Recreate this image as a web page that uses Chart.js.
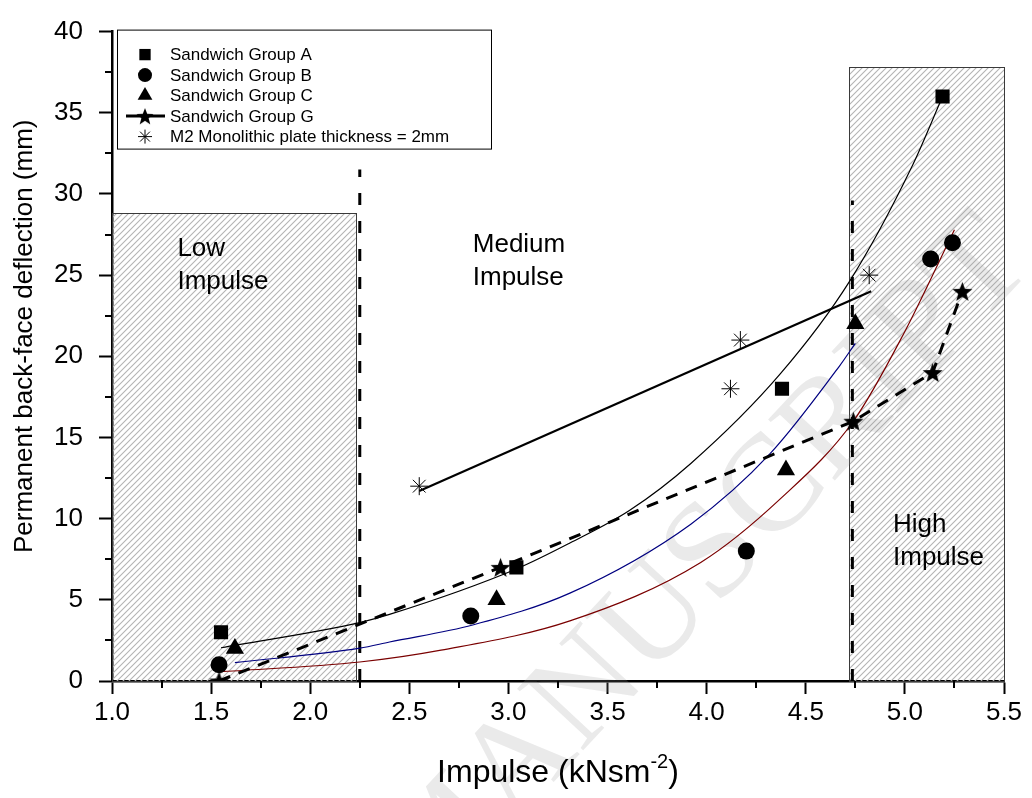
<!DOCTYPE html>
<html>
<head>
<meta charset="utf-8">
<script src="https://cdn.jsdelivr.net/npm/chart.js@4.4.1/dist/chart.umd.min.js"></script>
<style>
  html, body { margin: 0; padding: 0; background: #fff; }
</style>
</head>
<body>
<canvas id="myChart" width="1032" height="798"></canvas>
<script>
const impulseA = [1.55, 3.04, 4.38, 5.19];
const deflA = [3, 7, 18, 36];
const impulseB = [1.54, 2.81, 4.20, 5.13, 5.24];
const deflB = [1, 4, 8, 26, 27];
const impulseC = [1.62, 2.94, 4.40, 4.75];
const deflC = [2, 5, 13, 22];
const impulseG = [1.54, 2.96, 4.74, 5.14, 5.29];
const deflG = [0, 7, 16, 19, 24];
const impulseM2 = [2.55, 4.12, 4.17, 4.82];
const deflM2 = [12, 18, 21, 25];

// Fit curves, sampled by eye along each line
const fitAx = [1.55, 2.25, 2.40, 3.04, 3.31, 3.61, 3.92, 4.37, 4.72, 5.04, 5.19];
const fitAy = [2.05, 3.6, 4.1, 6.9, 8.5, 10.5, 13.4, 18.9, 24.6, 31.8, 36.0];
const fitBx = [1.54, 2.25, 2.66, 3.31, 3.97, 4.37, 4.74, 4.99, 5.25];
const fitBy = [0.56, 1.17, 1.9, 3.7, 7.3, 11.2, 16.0, 21.3, 27.8];
const fitCx = [1.62, 2.25, 2.40, 2.82, 3.31, 3.92, 4.32, 4.67, 4.75];
const fitCy = [1.13, 2.02, 2.4, 3.45, 5.41, 9.66, 14.0, 19.4, 20.8];
const fitM2x = [2.55, 4.83];
const fitM2y = [11.7, 24.0];

// Impulse zones
const zoneFrom = [1.0, 4.72];
const zoneTo = [2.23, 5.5];
const zoneTop = [28.8, 37.8];
const boundaryX = [2.25, 4.735];
const boundaryTop = [31.5, 29.6];
const zoneText = [["Low", "Impulse"], ["Medium", "Impulse"], ["High", "Impulse"]];
const zoneTextX = [1.33, 2.82, 4.94];
const zoneTextY = [26.2, 26.4, 9.2];

const xTicks = [1.0, 1.5, 2.0, 2.5, 3.0, 3.5, 4.0, 4.5, 5.0, 5.5];
const yTicks = [0, 5, 10, 15, 20, 25, 30, 35, 40];

const FONT = "Arial, 'Liberation Sans', sans-serif";
const pts = (xs, ys) => xs.map((v, i) => ({ x: v, y: ys[i] }));

// filled five point star used for group G
function makeStar(r) {
    const s = Math.ceil(r * 2 + 2);
    const c = document.createElement('canvas');
    c.width = s; c.height = s;
    const g = c.getContext('2d');
    g.fillStyle = '#000';
    g.beginPath();
    for (let i = 0; i < 10; i++) {
        const a = -Math.PI / 2 + i * Math.PI / 5;
        const rr = i % 2 ? r * 0.42 : r;
        const px = s / 2 + rr * Math.cos(a), py = s / 2 + rr * Math.sin(a) + r * 0.1;
        i ? g.lineTo(px, py) : g.moveTo(px, py);
    }
    g.closePath();
    g.fill();
    return c;
}
const bigStar = makeStar(10.5);
const smallStar = makeStar(9);

// hatch tile
const hatchTile = (() => {
    const c = document.createElement('canvas');
    c.width = 6; c.height = 6;
    const g = c.getContext('2d');
    g.strokeStyle = '#b4b4b4';
    g.lineWidth = 1.1;
    g.beginPath();
    g.moveTo(-1, 7); g.lineTo(7, -1);
    g.moveTo(-1, 1); g.lineTo(1, -1);
    g.moveTo(5, 7); g.lineTo(7, 5);
    g.stroke();
    return c;
})();

const boundaryData = boundaryX.map((bx, i) => ({
    label: '', data: [{ x: bx, y: 0 }, { x: bx, y: boundaryTop[i] }],
    showLine: true, borderColor: '#000', borderWidth: 3, borderDash: [12, 16],
    pointRadius: 0
}));

const legendSpec = [
    { style: 'rect', radius: 8, fill: true },
    { style: 'circle', radius: 7, fill: true },
    { style: 'triangle', radius: 8.5, fill: true },
    { style: smallStar, line: true },
    { style: 'star', radius: 7, fill: false }
];
const legendLabels = ['Sandwich Group A', 'Sandwich Group B', 'Sandwich Group C',
    'Sandwich Group G', 'M2 Monolithic plate thickness = 2mm'];

const decor = {
    id: 'decor',
    beforeDatasetsDraw(chart) {
        const { ctx, scales: { x, y } } = chart;
        ctx.save();
        // hatched zones
        const pat = ctx.createPattern(hatchTile, 'repeat');
        zoneFrom.forEach((from, i) => {
            const l = x.getPixelForValue(from), r = x.getPixelForValue(zoneTo[i]);
            const t = y.getPixelForValue(zoneTop[i]), b = y.getPixelForValue(0);
            ctx.fillStyle = pat;
            ctx.fillRect(l, t, r - l, b - t);
            ctx.strokeStyle = '#3a3a3a';
            ctx.lineWidth = 1;
            ctx.strokeRect(Math.round(l) + 0.5, Math.round(t) + 0.5, Math.round(r - l), Math.round(b - t));
        });
        // watermark
        ctx.save();
        ctx.translate(520, 765);
        ctx.rotate(-47 * Math.PI / 180);
        ctx.font = "138px 'Liberation Serif', 'DejaVu Serif', serif";
        ctx.fillStyle = 'rgba(150,150,150,0.2)';
        ctx.textBaseline = 'middle';
        const pre = ctx.measureText('ACCEPTED M').width + ctx.measureText('A').width / 2;
        ctx.fillText('ACCEPTED MANUSCRIPT', -pre, 0);
        ctx.restore();
        // zone captions
        ctx.fillStyle = '#000';
        ctx.font = '26px ' + FONT;
        ctx.textBaseline = 'alphabetic';
        ctx.textAlign = 'left';
        zoneText.forEach((lines, i) => {
            const px = x.getPixelForValue(zoneTextX[i]);
            const py = y.getPixelForValue(zoneTextY[i]);
            lines.forEach((s, k) => ctx.fillText(s, px, py + k * 33));
        });
        ctx.restore();
    },
    afterDraw(chart) {
        const { ctx, chartArea: a, scales: { x, y } } = chart;
        ctx.save();
        // minor ticks
        ctx.strokeStyle = '#000';
        ctx.lineWidth = 2;
        ctx.beginPath();
        for (let i = 0; i < xTicks.length - 1; i++) {
            const px = Math.round(x.getPixelForValue((xTicks[i] + xTicks[i + 1]) / 2));
            ctx.moveTo(px, a.bottom); ctx.lineTo(px, a.bottom + 7);
        }
        for (let i = 0; i < yTicks.length - 1; i++) {
            const py = Math.round(y.getPixelForValue((yTicks[i] + yTicks[i + 1]) / 2));
            ctx.moveTo(a.left, py); ctx.lineTo(a.left - 7, py);
        }
        ctx.stroke();

        // axis titles
        ctx.fillStyle = '#000';
        ctx.textBaseline = 'alphabetic';
        ctx.textAlign = 'left';
        const big = '32px ' + FONT, sup = '20px ' + FONT;
        ctx.font = big;
        const w1 = ctx.measureText('Impulse (kNsm').width, w3 = ctx.measureText(')').width;
        ctx.font = sup;
        const w2 = ctx.measureText('-2').width;
        let tx = (a.left + a.right) / 2 - (w1 + w2 + w3) / 2;
        const ty = 782;
        ctx.font = big; ctx.fillText('Impulse (kNsm', tx, ty);
        ctx.font = sup; ctx.fillText('-2', tx + w1, ty - 14);
        ctx.font = big; ctx.fillText(')', tx + w1 + w2, ty);

        ctx.save();
        ctx.translate(32, (a.top + a.bottom) / 2 - 20);
        ctx.rotate(-Math.PI / 2);
        ctx.textAlign = 'center';
        ctx.font = '26px ' + FONT;
        ctx.fillText('Permanent back-face deflection (mm)', 0, 0);
        ctx.restore();

        // legend box
        const lx = a.left + 5, ly = a.top - 2, lw = 374, lh = 119;
        ctx.fillStyle = '#fff';
        ctx.fillRect(lx, ly, lw, lh);
        ctx.strokeStyle = '#000';
        ctx.lineWidth = 1;
        ctx.strokeRect(lx + 0.5, ly + 0.5, lw, lh);
        ctx.font = '17px ' + FONT;
        ctx.textBaseline = 'middle';
        legendLabels.forEach((label, i) => {
            const cy = ly + 25 + i * 20.5, cx = lx + 28;
            const spec = legendSpec[i];
            ctx.fillStyle = '#000';
            ctx.strokeStyle = '#000';
            if (spec.line) {
                ctx.lineWidth = 3;
                ctx.beginPath();
                ctx.moveTo(lx + 9, cy); ctx.lineTo(lx + 48, cy);
                ctx.stroke();
            }
            ctx.lineWidth = 1;
            Chart.helpers.drawPoint(ctx, {
                pointStyle: spec.style, radius: spec.radius || 8, rotation: 0,
                borderWidth: spec.fill ? 0 : 1
            }, cx, cy);
            ctx.fillStyle = '#000';
            ctx.fillText(label, lx + 53, cy + 1);
        });
        ctx.restore();
    }
};

new Chart(document.getElementById('myChart'), {
    type: 'scatter',
    data: {
        datasets: [
            { label: legendLabels[0], data: pts(impulseA, deflA), pointStyle: 'rect', pointRadius: 10,
              backgroundColor: '#000', borderColor: '#000', borderWidth: 0 },
            { label: legendLabels[1], data: pts(impulseB, deflB), pointStyle: 'circle', pointRadius: 8.5,
              backgroundColor: '#000', borderColor: '#000', borderWidth: 0 },
            { label: legendLabels[2], data: pts(impulseC, deflC), pointStyle: 'triangle', pointRadius: 10.5,
              backgroundColor: '#000', borderColor: '#000', borderWidth: 0 },
            { label: legendLabels[3], data: pts(impulseG, deflG), pointStyle: bigStar, showLine: true,
              borderColor: '#000', borderWidth: 3, borderDash: [12, 9], backgroundColor: '#000' },
            { label: legendLabels[4], data: pts(impulseM2, deflM2), pointStyle: 'star', pointRadius: 9,
              borderColor: '#000', borderWidth: 1, backgroundColor: '#000' },
            { label: 'fit A', data: pts(fitAx, fitAy), showLine: true, pointRadius: 0,
              borderColor: '#000', borderWidth: 1.2, cubicInterpolationMode: 'monotone' },
            { label: 'fit B', data: pts(fitBx, fitBy), showLine: true, pointRadius: 0,
              borderColor: '#7a0000', borderWidth: 1.2, cubicInterpolationMode: 'monotone' },
            { label: 'fit C', data: pts(fitCx, fitCy), showLine: true, pointRadius: 0,
              borderColor: '#000080', borderWidth: 1.2, cubicInterpolationMode: 'monotone' },
            { label: 'fit M2', data: pts(fitM2x, fitM2y), showLine: true, pointRadius: 0,
              borderColor: '#000', borderWidth: 2.2 },
            ...boundaryData
        ]
    },
    options: {
        responsive: false,
        animation: false,
        layout: { padding: { top: 20, right: 28, left: 0, bottom: 0 } },
        plugins: { legend: { display: false }, tooltip: { enabled: false } },
        scales: {
            x: {
                type: 'linear', min: 1, max: 5.5,
                afterFit: s => { s.height = 117; },
                afterBuildTicks: s => { s.ticks = xTicks.map(v => ({ value: v })); },
                ticks: { autoSkip: false, maxRotation: 0, padding: 3, color: '#000',
                         font: { family: FONT, size: 26 }, callback: v => v.toFixed(1) },
                grid: { drawOnChartArea: false, tickLength: 13, tickWidth: 2, tickColor: '#000' },
                border: { color: '#000', width: 2.5 }
            },
            y: {
                type: 'linear', min: 0, max: 40,
                afterFit: s => { s.width = 112; },
                afterBuildTicks: s => { s.ticks = yTicks.map(v => ({ value: v })); },
                ticks: { autoSkip: false, padding: 16, color: '#000',
                         font: { family: FONT, size: 26 }, callback: v => String(v) },
                grid: { drawOnChartArea: false, tickLength: 13, tickWidth: 2, tickColor: '#000' },
                border: { color: '#000', width: 2.5 }
            }
        }
    },
    plugins: [decor]
});
</script>
</body>
</html>
